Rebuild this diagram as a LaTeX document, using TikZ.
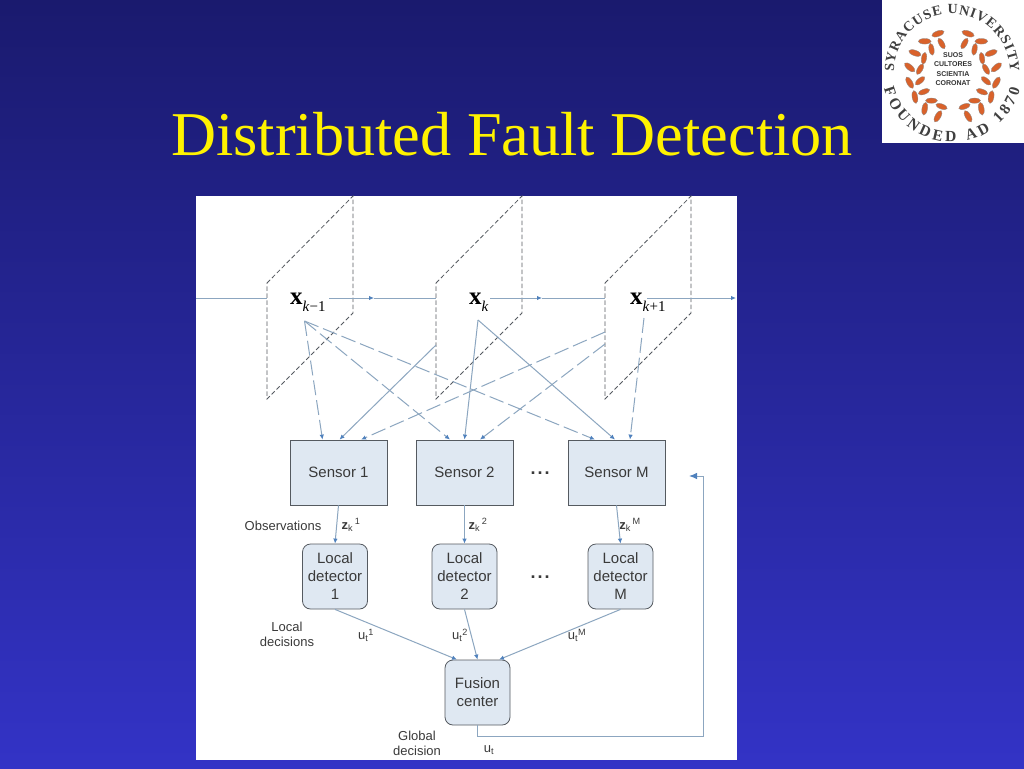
\documentclass[tikz,border=0pt]{standalone}
\usepackage{fontspec}
\setmainfont{Liberation Serif}
\setsansfont{Liberation Sans}
\usetikzlibrary{arrows.meta,decorations.text}
\definecolor{bgtop}{HTML}{1A1A6E}
\definecolor{bgbot}{HTML}{3333C6}
\definecolor{boxfill}{HTML}{DFE8F2}
\definecolor{boxline}{HTML}{555A60}
\definecolor{wire}{HTML}{8CA6C0}
\definecolor{tipblue}{HTML}{4F81BD}
\definecolor{labelgray}{HTML}{3A3A3A}
\definecolor{leafred}{HTML}{D9622B}
\newcommand{\zlab}[1]{\textbf{z}\textsubscript{k}\textsuperscript{\,#1}}
\newcommand{\ulab}[1]{u\textsubscript{t}\textsuperscript{#1}}
\newcommand{\xlab}[1]{\textbf{x}\raisebox{-7pt}{\fontsize{15}{15}\selectfont #1}}

\begin{document}
\begin{tikzpicture}[x=1pt,y=-1pt,
font=\sffamily\fontsize{15}{18}\selectfont,
sensorbox/.style={draw=boxline,fill=boxfill,line width=.8pt,text=labelgray,minimum width=97pt,minimum height=65pt,inner sep=0pt},
roundbox/.style={draw=boxline,fill=boxfill,line width=.8pt,rounded corners=8pt,text=labelgray,align=center,minimum width=65pt,minimum height=65pt,inner sep=0pt},
lab/.style={text=labelgray,align=center,inner sep=0pt,font=\sffamily\fontsize{13}{15}\selectfont},
statelab/.style={text=black,inner sep=0pt,anchor=base west,font=\rmfamily\fontsize{25}{28}\selectfont},
dotlab/.style={text=labelgray,inner sep=0pt,anchor=base,font=\sffamily\bfseries\fontsize{18}{18}\selectfont},
plane/.style={draw=boxline,line width=.8pt,dash pattern=on 4.5pt off 2.5pt},
wireline/.style={draw=wire,line width=1pt},
arr/.style={-{Latex[length=5pt,width=4.5pt,color=tipblue]},wire,line width=1pt},
darr/.style={arr,dash pattern=on 15pt off 5pt},
bigarr/.style={-{Latex[length=8pt,width=6.5pt,color=tipblue]},wire,line width=1pt},
leaf/.style={fill=leafred,draw=black!45,line width=.3pt},
seal/.style={decorate,decoration={text along path,text align=fit to path,text format delimiters={|}{|},text={|\rmfamily\bfseries\fontsize{#1}{#1}\selectfont\color{black!75}|\sealtext}}}]
\useasboundingbox (0,0) rectangle (1024,768);
\fill[top color=bgtop,bottom color=bgbot,shading angle=0] (0,0) rectangle (1024,768);
\fill[white] (196,196) rectangle (737,760);
\node[text=yellow,inner sep=0pt,font=\rmfamily\fontsize{62.3}{70}\selectfont] (title) at (512,134) {Distributed Fault Detection};

\fill[white] (882,0) rectangle (1024,143);
\begin{scope}[shift={(953,75)}]
\foreach \a in {-70,-50,-30,-10,10,30,50,70}{
\fill[leaf,rotate around={\a+50:(\a:44)}] (\a:44) ellipse (6.5 and 2.8);
\fill[leaf,rotate around={\a+130:(\a:33.5)}] (\a:33.5) ellipse (6 and 2.6);
\fill[leaf,rotate around={180-\a-50:(180-\a:44)}] (180-\a:44) ellipse (6.5 and 2.8);
\fill[leaf,rotate around={180-\a-130:(180-\a:33.5)}] (180-\a:33.5) ellipse (6 and 2.6);
}
\end{scope}
\node[align=center,inner sep=0pt,text=black!80,font=\sffamily\bfseries\fontsize{7}{9.4}\selectfont] (motto) at (953,69) {SUOS\\CULTORES\\SCIENTIA\\CORONAT};
\def\sealtext{SYRACUSE UNIVERSITY}
\path[seal=14] (952,72) ++(180:58) arc (180:360:58);
\def\sealtext{FOUNDED AD 1870}
\path[seal=15.5] (952,72) ++(166:70) arc (166:14:70);

\foreach \px in {267,436,605}
\draw[plane] (\px,283)--(\px+86,196)--(\px+86,313)--(\px,399)--cycle;

\node[statelab] (xa) at (290,304) {\xlab{\textit{k}−1}};
\node[statelab] (xb) at (469,304) {\xlab{\textit{k}}};
\node[statelab] (xc) at (630,304) {\xlab{\textit{k}+1}};

\node[sensorbox] (s1) at (338.5,472.5) {Sensor 1};
\node[sensorbox] (s2) at (464.5,472.5) {Sensor 2};
\node[sensorbox] (sm) at (616.5,472.5) {Sensor M};
\node[roundbox] (d1) at (335,576.5) {Local\\detector\\1};
\node[roundbox] (d2) at (464.5,576.5) {Local\\detector\\2};
\node[roundbox] (dm) at (620.5,576.5) {Local\\detector\\M};
\node[roundbox] (fc) at (477.5,692.5) {Fusion\\center};
\node[dotlab] (dots1) at (540,474) {.\kern2pt.\kern2pt.};
\node[dotlab] (dots2) at (540,578) {.\kern2pt.\kern2pt.};

\node[lab] (obs) at (283,526) {Observations};
\node[lab] (zl1) at (351,525) {\zlab{1}};
\node[lab] (zl2) at (478,525) {\zlab{2}};
\node[lab] (zlm) at (630,525) {\zlab{M}};
\node[lab] (ldec) at (287,634.5) {Local\\decisions};
\node[lab] (ul1) at (366,635) {\ulab{1}};
\node[lab] (ul2) at (460,635) {\ulab{2}};
\node[lab] (ulm) at (577,635) {\ulab{M}};
\node[lab] (gdec) at (417,743) {Global\\decision};
\node[lab] (ut) at (489,750) {u\textsubscript{t}};

\coordinate (in) at (196,298);
\coordinate (p1) at (267,298);
\coordinate (p2) at (436,298);
\coordinate (p3) at (605,298);
\coordinate (ra) at (329,298);
\coordinate (rb) at (490,298);
\coordinate (rc) at (647,298);
\coordinate (ma) at (374,298);
\coordinate (mb) at (542,298);
\coordinate (out) at (736,298);
\coordinate (srca) at (304.5,321);
\coordinate (srcb) at (478,320);
\coordinate (srcc) at (644,318);
\coordinate (edgeb) at (436,345);
\coordinate (edgec) at (605,332);
\coordinate (edged) at (605,344);
\coordinate (fbk) at (703,736);
\coordinate (fbend) at (689,476);

\draw[wireline] (in)--(p1);
\draw[arr] (ra)--(ma);
\draw[wireline] (ma)--(p2);
\draw[arr] (rb)--(mb);
\draw[wireline] (mb)--(p3);
\draw[arr] (rc)--(out);

\draw[darr] (srca)--([xshift=-16pt]s1.north);
\draw[darr] (srca)--([xshift=-14.5pt]s2.north);
\draw[darr] (srca)--([xshift=-21.5pt]sm.north);
\draw[arr] (edgeb)--([xshift=1pt]s1.north);
\draw[arr] (srcb)--(s2.north);
\draw[arr] (srcb)--([xshift=-1.5pt]sm.north);
\draw[darr] (edgec)--([xshift=22.5pt]s1.north);
\draw[darr] (edged)--([xshift=15.5pt]s2.north);
\draw[darr] (srcc)--([xshift=13.5pt]sm.north);

\draw[arr] (s1.south)--(d1.north);
\draw[arr] (s2.south)--(d2.north);
\draw[arr] (sm.south)--(dm.north);
\draw[arr] (d1.south)--([xshift=-20.5pt]fc.north);
\draw[arr] (d2.south)--(fc.north);
\draw[arr] (dm.south)--([xshift=21.5pt]fc.north);
\draw[bigarr] (fc.south)|-(fbk)|-(fbend);
\end{tikzpicture}
\end{document}
